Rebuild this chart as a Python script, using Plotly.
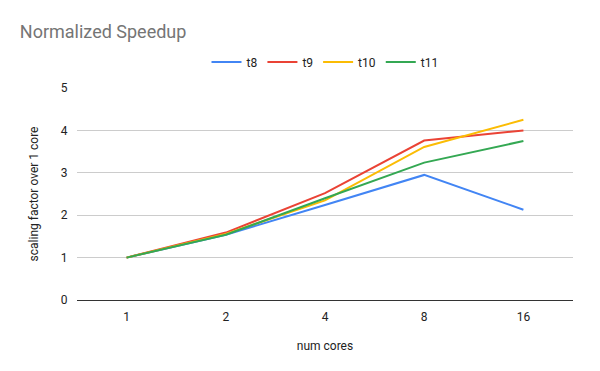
import plotly.graph_objects as go

categories = ["1", "2", "4", "8", "16"]
t8 = [1.0, 1.54, 2.24, 2.95, 2.13]
t9 = [1.0, 1.59, 2.52, 3.76, 4.0]
t10 = [1.0, 1.56, 2.35, 3.61, 4.25]
t11 = [1.0, 1.54, 2.40, 3.24, 3.75]
series = [("t8", t8, "#4285F4"), ("t9", t9, "#EA4335"),
          ("t10", t10, "#FBBC04"), ("t11", t11, "#34A853")]
y_ticks = [0, 1, 2, 3, 4, 5]

fig = go.Figure()
for name, vals, color in series:
    fig.add_trace(go.Scatter(x=categories, y=vals, name=name, mode="lines",
                             line=dict(color=color, width=2)))

fig.update_layout(
    width=592, height=363,
    paper_bgcolor="white", plot_bgcolor="white",
    font=dict(family="Roboto, Arial, sans-serif", size=12, color="#222222"),
    title=dict(text="Normalized Speedup", x=0.02, xanchor="left", y=0.934, yanchor="middle",
               font=dict(size=18, color="#757575")),
    margin=dict(l=69, r=27, t=80, b=71),
    legend=dict(orientation="h", x=0.5, xanchor="center", y=1.123, yanchor="middle",
                font=dict(size=12, color="#222222"), itemwidth=30),
    xaxis=dict(type="category", range=[-0.5, 4.5], showgrid=False, showline=False,
               ticks="outside", ticklen=6, tickcolor="rgba(0,0,0,0)",
               title=dict(text="num cores", font=dict(size=12, color="#222222"), standoff=18)),
    yaxis=dict(range=[0, 5], tickvals=y_ticks, showgrid=True, gridcolor="#CCCCCC",
               zeroline=True, zerolinecolor="#333333", zerolinewidth=1,
               ticks="outside", ticklen=6, tickcolor="rgba(0,0,0,0)",
               title=dict(text="scaling factor over 1 core", font=dict(size=12, color="#222222"), standoff=19)),
)

fig.write_html("out.html")
